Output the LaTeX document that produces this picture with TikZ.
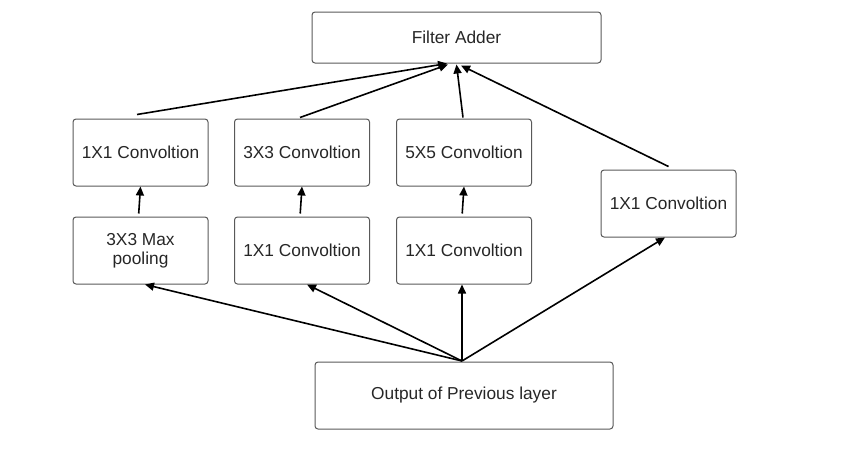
\documentclass[tikz,border=0pt]{standalone}
\usepackage{fontspec}
\setmainfont{Liberation Sans}
\usetikzlibrary{arrows.meta}
\begin{document}
\begin{tikzpicture}[x=1pt,y=-1pt,font=\fontsize{17.3}{19}\selectfont,
  blk/.style={draw=black!65,rounded corners=3pt,line width=1pt,text=black!85,align=center,inner sep=0pt},
  conv/.style={blk,minimum width=135pt,minimum height=67pt},
  arr/.style={-{Triangle[length=9pt,width=8pt]},line width=1.6pt}]
  \useasboundingbox (0,0) rectangle (841,472);

  \node[blk,minimum width=289pt,minimum height=51pt] (adder) at (456.5,37.5) {Filter Adder};
  \foreach \x/\n/\t in {140.5/c1/1X1 Convoltion,302/c3/3X3 Convoltion,464/c5/5X5 Convoltion}
    \node[conv] (\n) at (\x,152.5) {\t};
  \foreach \x/\n/\t in {140.5/pool/3X3 Max\\pooling,302/r3/1X1 Convoltion,464/r5/1X1 Convoltion}
    \node[conv] (\n) at (\x,250.5) {\t};
  \node[conv] (rc) at (668.5,203.5) {1X1 Convoltion};
  \node[blk,minimum width=298pt,minimum height=67pt] (prev) at (464,395.5) {Output of Previous layer};

  % from previous layer
  \coordinate (src) at (462,361);
  \draw[arr] (src) -- ([xshift=4.5pt]pool.south);
  \draw[arr] (src) -- ([xshift=5pt]r3.south);
  \draw[arr] (src) -- ([xshift=-2pt]r5.south);
  \draw[arr] (src) -- ([xshift=-3.5pt]rc.south);

  \foreach \a/\b in {pool/c1,r3/c3,r5/c5}
    \draw[arr,shorten <=3pt] ([xshift=-2pt]\a.north) -- (\b.south);

  % into the adder
  \draw[arr] ([xshift=-3.5pt,yshift=4pt]c1.north) -- ([xshift=-9.5pt]adder.south);
  \draw[arr] ([xshift=-2pt,yshift=1pt]c3.north) -- ([xshift=-8.5pt,yshift=-1pt]adder.south);
  \draw[arr] ([xshift=-1pt,yshift=1pt]c5.north) -- ([yshift=-1pt]adder.south);
  \draw[arr] ([yshift=3pt]rc.north) -- ([xshift=4.5pt,yshift=-2pt]adder.south);
\end{tikzpicture}
\end{document}
